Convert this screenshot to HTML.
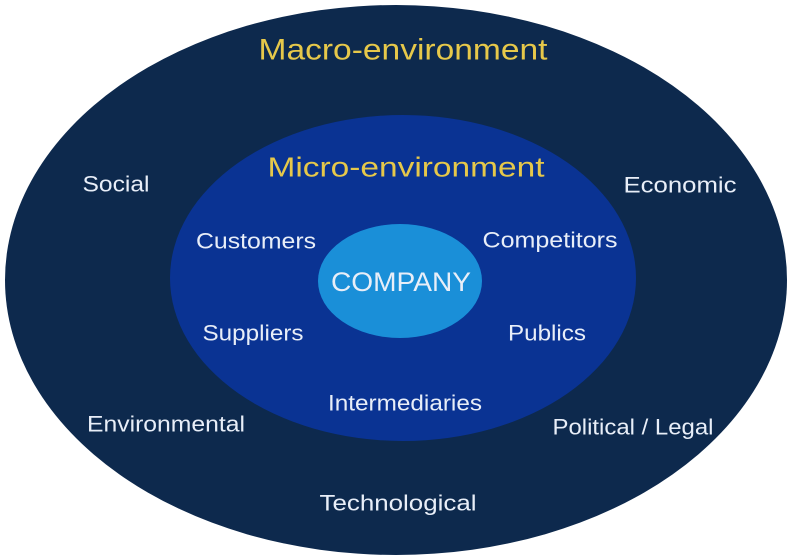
<!DOCTYPE html>
<html><head><meta charset="utf-8"><style>
html,body{margin:0;padding:0;background:#fff;}
svg{display:block;}
text{font-family:"Liberation Sans",sans-serif;fill:#e8eef8;dominant-baseline:central;text-anchor:middle;}
.y{fill:#e6c84a;}
</style></head><body>
<svg width="792" height="560" viewBox="0 0 792 560" xmlns="http://www.w3.org/2000/svg">
<rect width="792" height="560" fill="#fff"/>
<ellipse cx="396" cy="280" rx="391" ry="275" fill="#0d294d"/>
<ellipse cx="403" cy="278" rx="233" ry="163" fill="#0a3393"/>
<ellipse cx="400" cy="281" rx="82" ry="57" fill="#1a8fd8"/>
<text class="y" x="403" y="50" font-size="30" textLength="289" lengthAdjust="spacingAndGlyphs">Macro-environment</text>
<text class="y" x="406" y="167" font-size="28" textLength="277" lengthAdjust="spacingAndGlyphs">Micro-environment</text>
<text x="116" y="184" font-size="22" textLength="67" lengthAdjust="spacingAndGlyphs">Social</text>
<text x="680" y="185" font-size="22" textLength="113" lengthAdjust="spacingAndGlyphs">Economic</text>
<text x="256" y="241" font-size="22" textLength="120" lengthAdjust="spacingAndGlyphs">Customers</text>
<text x="550" y="240" font-size="22" textLength="135" lengthAdjust="spacingAndGlyphs">Competitors</text>
<text x="401" y="282" font-size="27" textLength="140" lengthAdjust="spacingAndGlyphs">COMPANY</text>
<text x="253" y="333" font-size="22" textLength="101" lengthAdjust="spacingAndGlyphs">Suppliers</text>
<text x="547" y="333" font-size="22" textLength="78" lengthAdjust="spacingAndGlyphs">Publics</text>
<text x="405" y="403" font-size="22" textLength="154" lengthAdjust="spacingAndGlyphs">Intermediaries</text>
<text x="166" y="424" font-size="22" textLength="158" lengthAdjust="spacingAndGlyphs">Environmental</text>
<text x="633" y="427" font-size="22" textLength="161" lengthAdjust="spacingAndGlyphs">Political / Legal</text>
<text x="398" y="503" font-size="22" textLength="157" lengthAdjust="spacingAndGlyphs">Technological</text>
</svg>
</body></html>
